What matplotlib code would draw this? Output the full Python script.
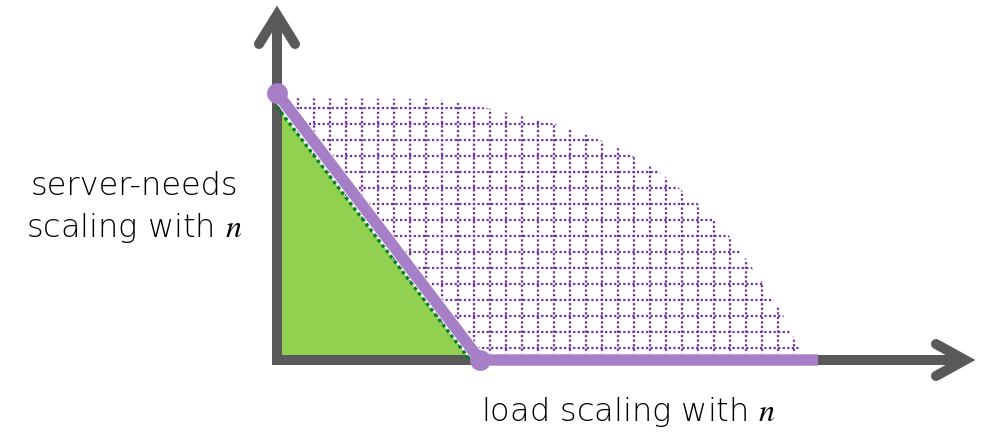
import matplotlib
matplotlib.use("Agg")
import matplotlib.pyplot as plt
import matplotlib.patheffects as pe
from matplotlib.patches import Polygon
import numpy as np

plt.rcParams['font.family'] = ['DejaVu Sans']
plt.rcParams['mathtext.fontset'] = 'stix'

# schematic units: origin at the axes corner, 1 unit ~ 1 px
# outer boundary of the feasible (hatched) region
curve_x = [0, 160, 200, 240, 290, 340, 380, 420, 455, 485, 505, 518, 526, 528]
curve_y = [262, 261, 254, 245, 233, 213, 190, 157, 121, 78, 47, 20, 5, 0]

# achievable region (green) and the trade-off frontier (purple)
green_x = [0, 0, 193]
green_y = [0, 253, 0]
frontier_x = [0, 203, 541]
frontier_y = [267, 0, 0]

grid_step = 16
axis_top = 345
axis_right = 688

gray = '#595959'
purple = '#a77fc6'
grid_purple = '#7030a0'
green = '#92d050'
dark_green = '#00802b'

fig = plt.figure(figsize=(9.88, 4.39), dpi=100)
ax = fig.add_axes([0, 0, 1, 1])
ax.set_xlim(-277, 711)
ax.set_ylim(-78, 361)
ax.axis('off')

# dotted grid, clipped to the region under the curve
region = Polygon(list(zip(curve_x, curve_y)) + [(0, 0)], closed=True,
                 facecolor='none', edgecolor='none')
ax.add_patch(region)
for gx in np.arange(4.7, max(curve_x), grid_step):
    ln, = ax.plot([gx, gx], [0, max(curve_y)], color=grid_purple, lw=1.6,
                  linestyle=(0, (1, 1.05)), zorder=1)
    ln.set_clip_path(region)
for gy in np.arange(251.7, 0, -grid_step):
    ln, = ax.plot([0, max(curve_x)], [gy, gy], color=grid_purple, lw=1.6,
                  linestyle=(0, (1, 1.05)), zorder=1)
    ln.set_clip_path(region)

# green triangle
ax.fill(green_x, green_y, color=green, lw=0, zorder=2)

# axes with arrows
ax.plot([0, 0, axis_right], [axis_top, 0, 0], color=gray, lw=7.2,
        solid_joinstyle='miter', solid_capstyle='butt', zorder=3)
ax.plot([-18, 0, 18], [316, axis_top, 316], color=gray, lw=7.2,
        solid_joinstyle='miter', solid_capstyle='round', zorder=3)
ax.plot([659, axis_right, 659], [16, 0, -16], color=gray, lw=7.2,
        solid_joinstyle='miter', solid_capstyle='round', zorder=3)

# frontier
ax.plot(frontier_x, frontier_y, color=purple, lw=8.2, solid_capstyle='butt',
        path_effects=[pe.Stroke(linewidth=9.6, foreground='white'), pe.Normal()],
        zorder=4)
ax.plot(frontier_x[:2], frontier_y[:2], 'o', color=purple, ms=15, mew=0, zorder=6)

# dotted edge of the green triangle
ax.plot(green_x[1:], green_y[1:], color=dark_green, lw=2.4,
        linestyle=(0, (1, 1.0)), zorder=5)

ax.text(-143, 153, 'server-needs\nscaling with $n$', ha='center', va='center',
        fontsize=23, fontweight='light', color='black', linespacing=1.42)
ax.text(352, -51, 'load scaling with $n$', ha='center', va='center',
        fontsize=23, fontweight='light', color='black')

fig.savefig('out.png', dpi=100)
